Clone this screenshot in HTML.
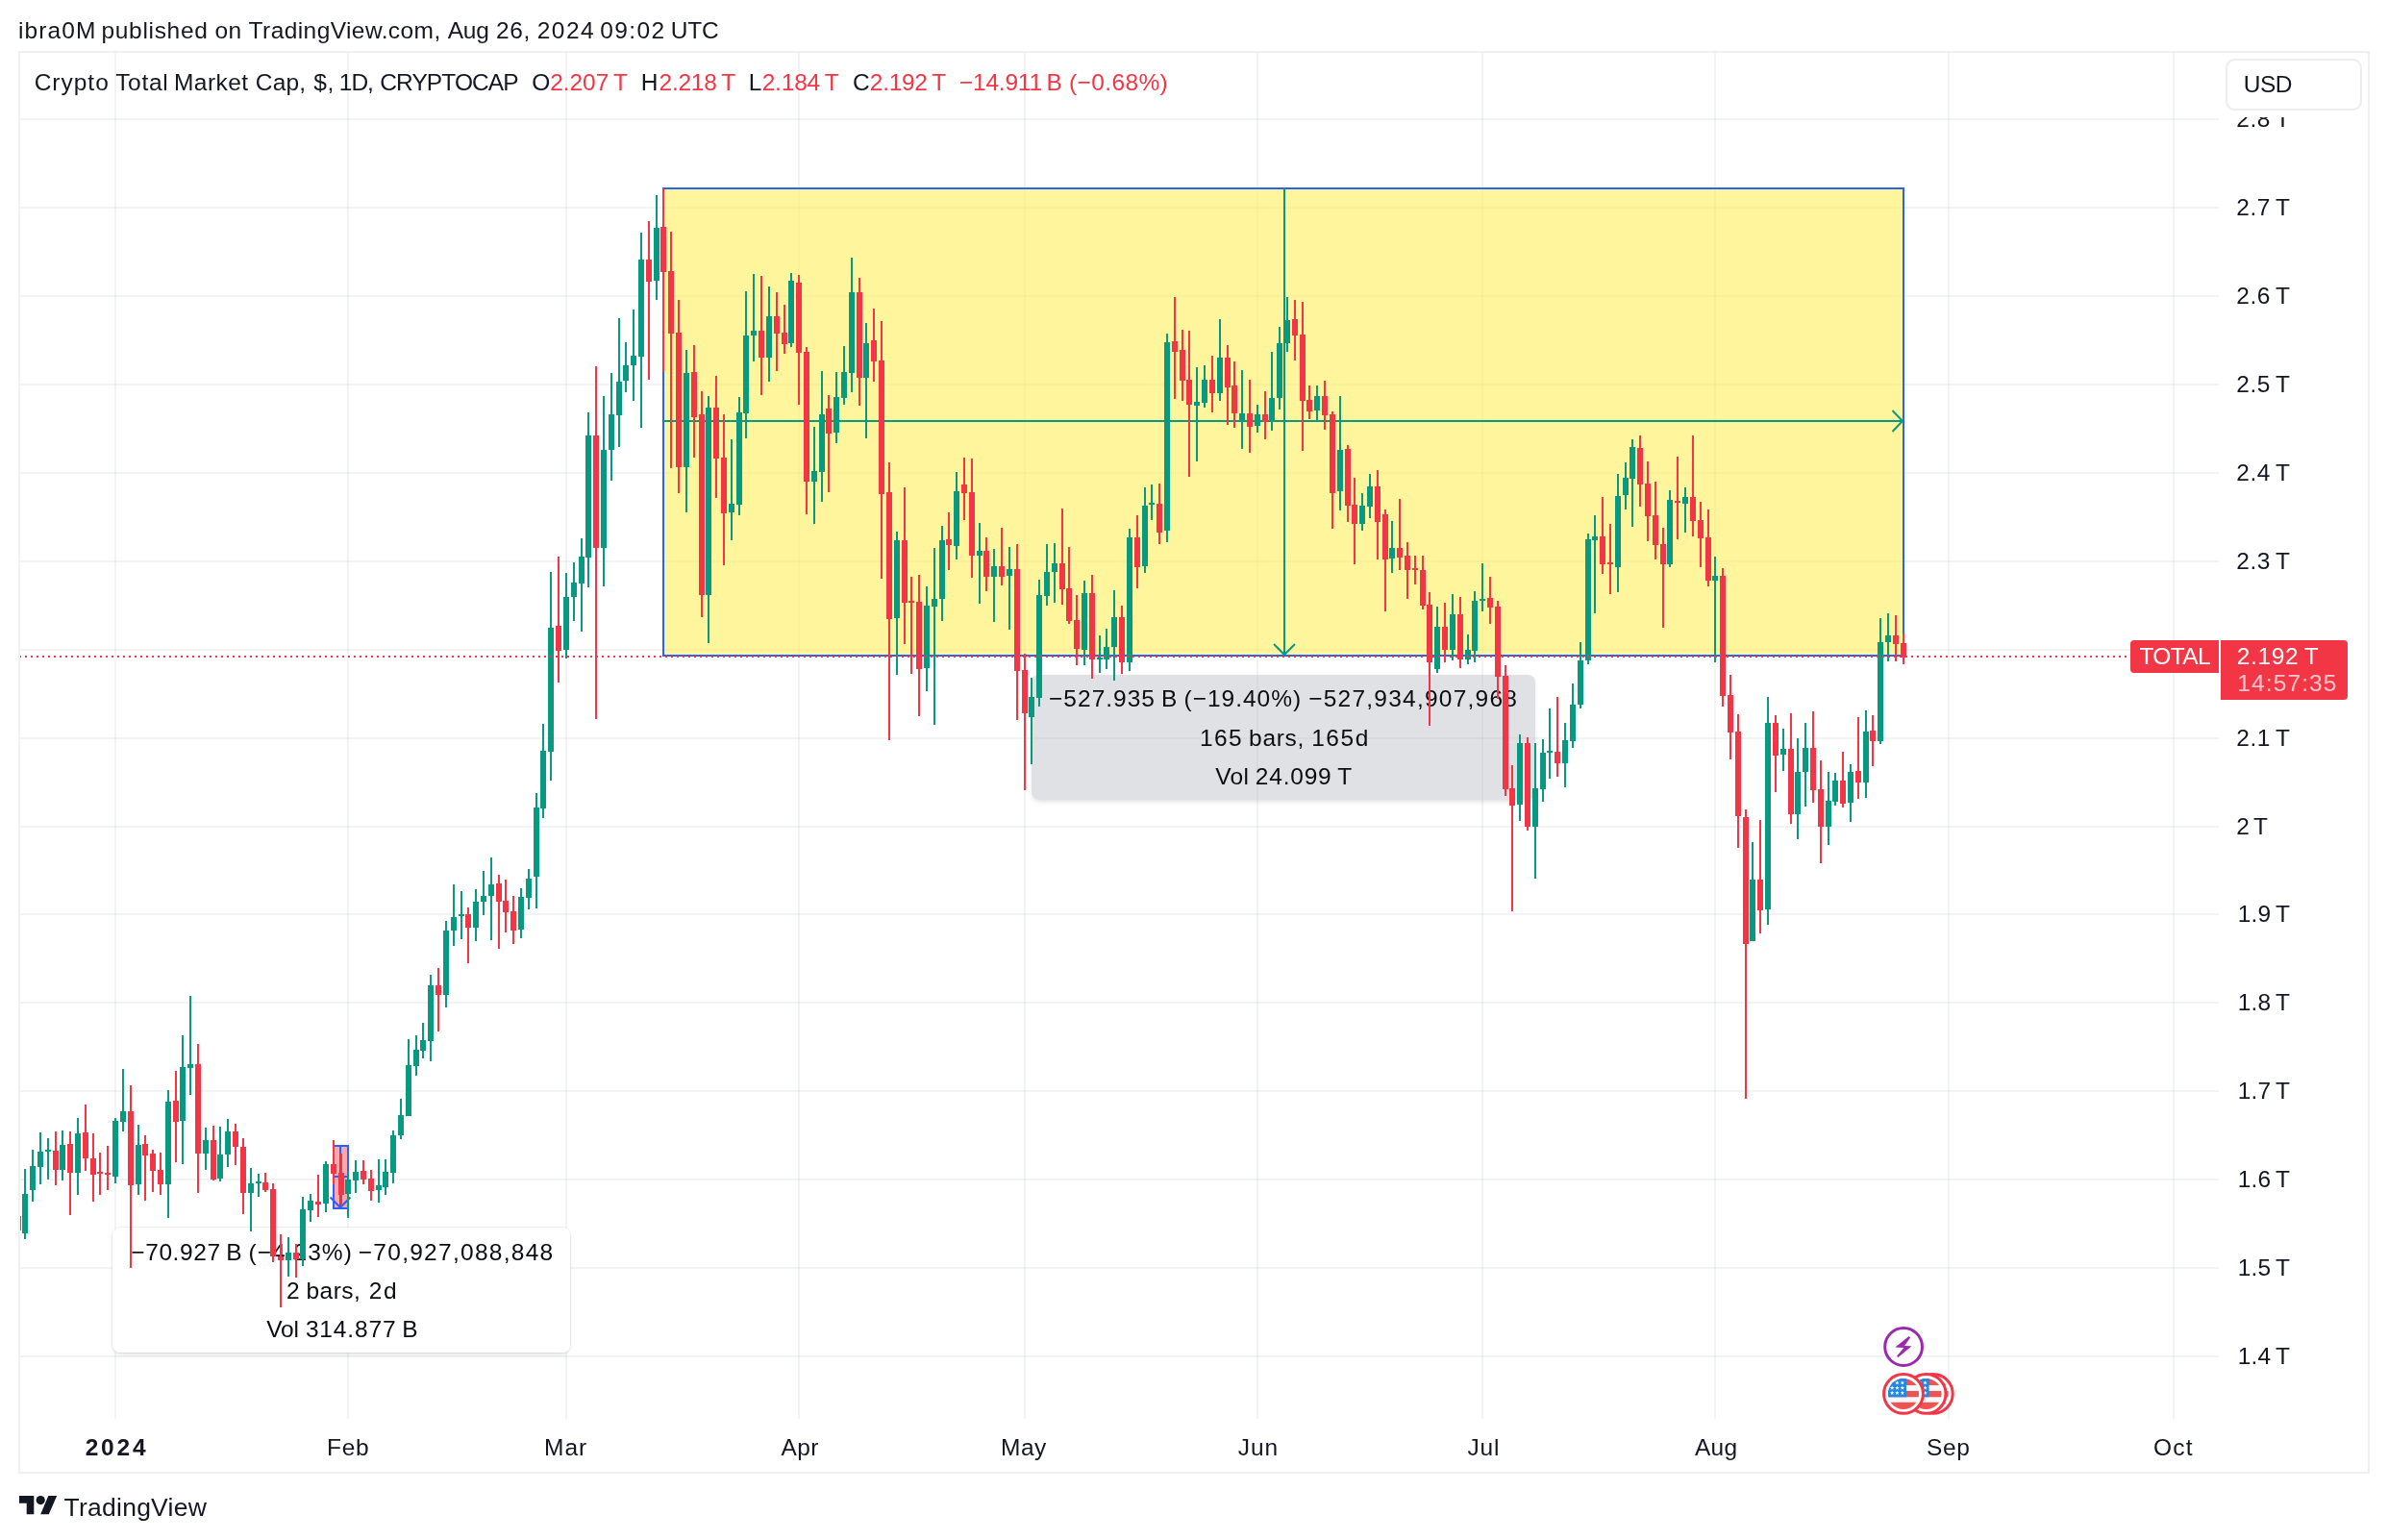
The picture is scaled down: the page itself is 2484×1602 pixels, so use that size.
<!DOCTYPE html>
<html lang="en"><head><meta charset="utf-8"><title>Crypto Total Market Cap, $, 1D, CRYPTOCAP — TradingView</title>
<style>html,body{margin:0;padding:0;background:#fff;width:2484px;height:1602px;overflow:hidden}svg text{white-space:pre}</style></head>
<body>
<svg width="2484" height="1602" viewBox="0 0 2484 1602" style="display:block;will-change:transform" font-family="'Liberation Sans', Arial, sans-serif" shape-rendering="crispEdges">
<rect width="2484" height="1602" fill="#fff"/>
<g fill="rgba(30,60,60,0.06)">
<rect x="119" y="55" width="2" height="1421"/>
<rect x="361" y="55" width="2" height="1421"/>
<rect x="588" y="55" width="2" height="1421"/>
<rect x="830" y="55" width="2" height="1421"/>
<rect x="1065" y="55" width="2" height="1421"/>
<rect x="1307" y="55" width="2" height="1421"/>
<rect x="1541" y="55" width="2" height="1421"/>
<rect x="1783" y="55" width="2" height="1421"/>
<rect x="2026" y="55" width="2" height="1421"/>
<rect x="2260" y="55" width="2" height="1421"/>
<rect x="21" y="1410" width="2287" height="2"/>
<rect x="21" y="1318" width="2287" height="2"/>
<rect x="21" y="1226" width="2287" height="2"/>
<rect x="21" y="1134" width="2287" height="2"/>
<rect x="21" y="1042" width="2287" height="2"/>
<rect x="21" y="950" width="2287" height="2"/>
<rect x="21" y="859" width="2287" height="2"/>
<rect x="21" y="767" width="2287" height="2"/>
<rect x="21" y="675" width="2287" height="2"/>
<rect x="21" y="583" width="2287" height="2"/>
<rect x="21" y="491" width="2287" height="2"/>
<rect x="21" y="399" width="2287" height="2"/>
<rect x="21" y="307" width="2287" height="2"/>
<rect x="21" y="215" width="2287" height="2"/>
<rect x="21" y="123" width="2287" height="2"/>
</g>
<rect x="690" y="196" width="1290" height="486" fill="rgba(255,235,59,0.5)" stroke="#2962ff" stroke-width="2"/>
<g stroke="#089981" stroke-width="2" fill="none">
<line x1="690" y1="438" x2="1979" y2="438"/>
<line x1="1336" y1="196" x2="1336" y2="681"/>
</g>
<g stroke="#089981" stroke-width="2" fill="none" shape-rendering="geometricPrecision">
<polyline points="1968.5,427 1979,438 1968.5,449"/>
<polyline points="1325,670 1336,681 1347,670"/>
</g>
<g shape-rendering="geometricPrecision">
<defs><filter id="sh" x="-10%" y="-20%" width="120%" height="150%"><feGaussianBlur stdDeviation="2.5"/></filter><clipPath id="c1"><path clip-rule="evenodd" d="M1000 650h700v260h-700zM1081 702h508a8 8 0 0 1 8 8v114a8 8 0 0 1-8 8h-508a8 8 0 0 1-8-8v-114a8 8 0 0 1 8-8z"/></clipPath><clipPath id="c2"><path clip-rule="evenodd" d="M60 1230h600v240h-600zM125 1277h460a8 8 0 0 1 8 8v114a8 8 0 0 1-8 8h-460a8 8 0 0 1-8-8v-114a8 8 0 0 1 8-8z"/></clipPath></defs>
<g clip-path="url(#c1)"><rect x="1074" y="704" width="522" height="130" rx="8" fill="rgba(19,23,34,0.12)" filter="url(#sh)"/></g>
<rect x="1073" y="702" width="524" height="130" rx="8" fill="rgba(178,181,190,0.40)"/>
</g>
<rect x="347" y="1192" width="15" height="65" fill="rgba(242,54,69,0.43)" stroke="#2962ff" stroke-width="2"/>
<g stroke="#2962ff" stroke-width="2" fill="none">
<line x1="354" y1="1192" x2="354" y2="1256"/>
<line x1="347" y1="1224" x2="362" y2="1224"/>
<polyline points="343.5,1245.5 354,1256 364.5,1245.5" shape-rendering="geometricPrecision"/>
</g>
<g shape-rendering="geometricPrecision">
<g clip-path="url(#c2)"><rect x="118" y="1279" width="474" height="130" rx="8" fill="rgba(19,23,34,0.12)" filter="url(#sh)"/></g>
<rect x="116.5" y="1276.5" width="477" height="131" rx="8.5" fill="none" stroke="rgba(19,23,34,0.05)" stroke-width="1" shape-rendering="geometricPrecision"/>
<rect x="117" y="1277" width="476" height="130" rx="8" fill="#fff"/>
</g>
<g shape-rendering="geometricPrecision"><text y="735.4" font-size="24.5" fill="#0a0c12"><tspan x="1091.05" letter-spacing="1.011">−527.935 B </tspan><tspan x="1231.5" letter-spacing="0.981">(−19.40%) </tspan><tspan x="1361.15" letter-spacing="1.24">−527,934,907,968</tspan></text><text y="775.6" font-size="24.5" fill="#0a0c12"><tspan x="1248.05" letter-spacing="1.35">165 </tspan><tspan x="1299.1" letter-spacing="0.688">bars, </tspan><tspan x="1364.15" letter-spacing="1.583">165d</tspan></text><text y="815.8" font-size="24.5" fill="#0a0c12"><tspan x="1264.15" letter-spacing="0.425">Vol </tspan><tspan x="1305.85" letter-spacing="0.786">24.099 T</tspan></text><text y="1311.1" font-size="24.5" fill="#0a0c12"><tspan x="136.25" letter-spacing="0.6">−70.927 B </tspan><tspan x="258.6" letter-spacing="1.014">(−4.23%) </tspan><tspan x="372.75" letter-spacing="1.275">−70,927,088,848</tspan></text><text y="1350.7" font-size="24.5" fill="#0a0c12"><tspan x="298.05">2 </tspan><tspan x="318.5" letter-spacing="0.463">bars, </tspan><tspan x="383.65" letter-spacing="1.7">2d</tspan></text><text y="1391" font-size="24.5" fill="#0a0c12"><tspan x="277.25" letter-spacing="-0.125">Vol </tspan><tspan x="317.9" letter-spacing="0.85">314.877 B</tspan></text></g>
<clipPath id="pane"><rect x="21" y="55" width="2287" height="1421"/></clipPath>
<g clip-path="url(#pane)"><path fill="#089981" d="M25 1216h2V1289h-2zM23 1242h6V1283h-6zM33 1196h2V1250h-2zM31 1213h6V1238h-6zM41 1178h2V1232h-2zM39 1198h6V1214h-6zM49 1184h2V1227h-2zM47 1196h6V1198h-6zM64 1176h2V1228h-2zM62 1191h6V1217h-6zM80 1163h2V1243h-2zM78 1179h6V1220h-6zM119 1163h2V1231h-2zM117 1166h6V1224h-6zM127 1112h2V1177h-2zM125 1156h6V1167h-6zM143 1170h2V1243h-2zM141 1191h6V1232h-6zM174 1134h2V1267h-2zM172 1146h6V1232h-6zM189 1077h2V1211h-2zM187 1110h6V1166h-6zM197 1036h2V1139h-2zM195 1107h6V1111h-6zM213 1173h2V1217h-2zM211 1186h6V1200h-6zM228 1172h2V1229h-2zM226 1201h6V1226h-6zM236 1164h2V1214h-2zM234 1177h6V1201h-6zM260 1215h2V1281h-2zM258 1231h6V1241h-6zM268 1221h2V1245h-2zM266 1229h6V1231h-6zM299 1287h2V1328h-2zM297 1303h6V1311h-6zM314 1245h2V1317h-2zM312 1258h6V1310h-6zM322 1242h2V1271h-2zM320 1249h6V1259h-6zM338 1208h2V1261h-2zM336 1211h6V1252h-6zM361 1219h2V1267h-2zM359 1227h6V1242h-6zM369 1207h2V1241h-2zM367 1219h6V1228h-6zM393 1206h2V1251h-2zM391 1233h6V1238h-6zM400 1206h2V1243h-2zM398 1219h6V1235h-6zM408 1176h2V1231h-2zM406 1181h6V1220h-6zM416 1143h2V1185h-2zM414 1160h6V1181h-6zM424 1081h2V1161h-2zM422 1108h6V1161h-6zM432 1077h2V1119h-2zM430 1092h6V1109h-6zM439 1064h2V1101h-2zM437 1082h6V1093h-6zM447 1014h2V1104h-2zM445 1025h6V1083h-6zM463 958h2V1048h-2zM461 968h6V1035h-6zM471 920h2V984h-2zM469 954h6V968h-6zM479 927h2V977h-2zM477 951h6V953h-6zM494 925h2V979h-2zM492 938h6V965h-6zM502 906h2V952h-2zM500 932h6V938h-6zM510 892h2V978h-2zM508 920h6V932h-6zM541 924h2V976h-2zM539 933h6V967h-6zM549 904h2V946h-2zM547 914h6V934h-6zM557 825h2V945h-2zM555 840h6V912h-6zM564 753h2V851h-2zM562 781h6V841h-6zM572 595h2V812h-2zM570 653h6V782h-6zM588 596h2V685h-2zM586 621h6V676h-6zM596 585h2V646h-2zM594 606h6V621h-6zM604 560h2V657h-2zM602 579h6V607h-6zM611 429h2V611h-2zM609 453h6V580h-6zM627 412h2V610h-2zM625 468h6V570h-6zM635 388h2V500h-2zM633 431h6V468h-6zM643 331h2V465h-2zM641 397h6V432h-6zM650 356h2V408h-2zM648 380h6V396h-6zM658 322h2V417h-2zM656 370h6V380h-6zM666 242h2V445h-2zM664 270h6V371h-6zM682 203h2V312h-2zM680 237h6V292h-6zM713 364h2V533h-2zM711 388h6V486h-6zM736 412h2V669h-2zM734 424h6V619h-6zM760 457h2V562h-2zM758 524h6V533h-6zM768 413h2V536h-2zM766 429h6V525h-6zM775 303h2V456h-2zM773 349h6V430h-6zM783 285h2V376h-2zM781 344h6V349h-6zM799 298h2V397h-2zM797 329h6V372h-6zM822 284h2V361h-2zM820 292h6V357h-6zM846 444h2V545h-2zM844 490h6V501h-6zM854 386h2V522h-2zM852 431h6V491h-6zM869 387h2V461h-2zM867 413h6V450h-6zM877 360h2V421h-2zM875 387h6V414h-6zM885 268h2V408h-2zM883 304h6V388h-6zM900 336h2V456h-2zM898 357h6V393h-6zM932 553h2V702h-2zM930 562h6V643h-6zM963 610h2V719h-2zM961 630h6V695h-6zM971 570h2V754h-2zM969 623h6V631h-6zM979 547h2V646h-2zM977 562h6V623h-6zM994 491h2V582h-2zM992 511h6V568h-6zM1018 544h2V628h-2zM1016 573h6V578h-6zM1033 571h2V647h-2zM1031 589h6V600h-6zM1049 569h2V655h-2zM1047 592h6V599h-6zM1072 705h2V795h-2zM1070 725h6V746h-6zM1080 603h2V735h-2zM1078 619h6V726h-6zM1088 566h2V630h-2zM1086 595h6V620h-6zM1096 565h2V627h-2zM1094 586h6V595h-6zM1127 604h2V692h-2zM1125 617h6V676h-6zM1143 661h2V700h-2zM1141 684h6V686h-6zM1150 654h2V696h-2zM1148 673h6V686h-6zM1158 614h2V708h-2zM1156 642h6V673h-6zM1174 550h2V698h-2zM1172 559h6V689h-6zM1190 507h2V596h-2zM1188 526h6V589h-6zM1197 504h2V541h-2zM1195 523h6V525h-6zM1213 347h2V564h-2zM1211 356h6V552h-6zM1244 382h2V480h-2zM1242 418h6V422h-6zM1252 380h2V424h-2zM1250 395h6V419h-6zM1268 332h2V417h-2zM1266 372h6V409h-6zM1291 385h2V467h-2zM1289 430h6V438h-6zM1307 421h2V450h-2zM1305 431h6V443h-6zM1322 366h2V448h-2zM1320 414h6V439h-6zM1330 340h2V426h-2zM1328 357h6V414h-6zM1338 309h2V366h-2zM1336 333h6V357h-6zM1369 401h2V437h-2zM1367 412h6V427h-6zM1393 412h2V531h-2zM1391 468h6V511h-6zM1416 513h2V552h-2zM1414 526h6V545h-6zM1424 493h2V539h-2zM1422 506h6V527h-6zM1447 542h2V596h-2zM1445 570h6V581h-6zM1494 631h2V700h-2zM1492 652h6V696h-6zM1510 618h2V687h-2zM1508 639h6V676h-6zM1526 660h2V691h-2zM1524 676h6V686h-6zM1533 615h2V689h-2zM1531 625h6V677h-6zM1541 586h2V636h-2zM1539 623h6V625h-6zM1580 764h2V854h-2zM1578 773h6V837h-6zM1596 773h2V914h-2zM1594 820h6V860h-6zM1604 769h2V834h-2zM1602 783h6V821h-6zM1611 737h2V810h-2zM1609 781h6V783h-6zM1627 752h2V819h-2zM1625 770h6V794h-6zM1635 711h2V778h-2zM1633 733h6V771h-6zM1643 668h2V737h-2zM1641 687h6V733h-6zM1651 555h2V691h-2zM1649 561h6V687h-6zM1658 536h2V638h-2zM1656 558h6V562h-6zM1682 493h2V616h-2zM1680 516h6V590h-6zM1690 481h2V530h-2zM1688 497h6V515h-6zM1697 457h2V548h-2zM1695 465h6V498h-6zM1736 510h2V590h-2zM1734 520h6V587h-6zM1752 507h2V554h-2zM1750 517h6V524h-6zM1783 579h2V689h-2zM1781 599h6V604h-6zM1822 876h2V979h-2zM1820 915h6V979h-6zM1838 725h2V962h-2zM1836 752h6V946h-6zM1854 758h2V802h-2zM1852 779h6V785h-6zM1869 768h2V873h-2zM1867 803h6V847h-6zM1877 752h2V839h-2zM1875 778h6V803h-6zM1901 803h2V879h-2zM1899 833h6V860h-6zM1908 804h2V838h-2zM1906 812h6V834h-6zM1924 795h2V855h-2zM1922 803h6V835h-6zM1940 739h2V830h-2zM1938 761h6V814h-6zM1955 643h2V774h-2zM1953 668h6V771h-6zM1963 638h2V688h-2zM1961 661h6V668h-6z"/><path fill="#f23645" d="M18 1265h2V1280h-2zM16 1265h6V1280h-6zM57 1177h2V1233h-2zM55 1197h6V1217h-6zM72 1177h2V1264h-2zM70 1190h6V1220h-6zM88 1149h2V1218h-2zM86 1178h6V1205h-6zM96 1179h2V1250h-2zM94 1205h6V1222h-6zM103 1199h2V1243h-2zM101 1219h6V1221h-6zM111 1192h2V1238h-2zM109 1220h6V1222h-6zM135 1129h2V1319h-2zM133 1156h6V1233h-6zM150 1181h2V1249h-2zM148 1190h6V1202h-6zM158 1196h2V1240h-2zM156 1200h6V1218h-6zM166 1199h2V1243h-2zM164 1217h6V1232h-6zM182 1114h2V1209h-2zM180 1145h6V1167h-6zM205 1086h2V1241h-2zM203 1107h6V1200h-6zM221 1171h2V1228h-2zM219 1186h6V1227h-6zM244 1169h2V1212h-2zM242 1177h6V1193h-6zM252 1184h2V1263h-2zM250 1193h6V1241h-6zM275 1220h2V1240h-2zM273 1230h6V1238h-6zM283 1231h2V1313h-2zM281 1237h6V1307h-6zM291 1284h2V1360h-2zM289 1307h6V1311h-6zM307 1294h2V1329h-2zM305 1303h6V1310h-6zM330 1222h2V1266h-2zM328 1250h6V1253h-6zM346 1186h2V1232h-2zM344 1211h6V1221h-6zM354 1200h2V1254h-2zM352 1220h6V1243h-6zM377 1207h2V1232h-2zM375 1218h6V1227h-6zM385 1217h2V1249h-2zM383 1226h6V1239h-6zM455 1007h2V1073h-2zM453 1025h6V1035h-6zM486 944h2V1002h-2zM484 951h6V965h-6zM518 910h2V987h-2zM516 919h6V938h-6zM525 915h2V970h-2zM523 937h6V949h-6zM533 932h2V982h-2zM531 948h6V968h-6zM580 579h2V710h-2zM578 651h6V677h-6zM619 381h2V748h-2zM617 453h6V570h-6zM674 230h2V395h-2zM672 270h6V293h-6zM689 196h2V387h-2zM687 236h6V283h-6zM697 241h2V487h-2zM695 282h6V347h-6zM705 312h2V513h-2zM703 346h6V486h-6zM721 359h2V476h-2zM719 387h6V434h-6zM729 407h2V642h-2zM727 431h6V619h-6zM744 391h2V518h-2zM742 424h6V477h-6zM752 431h2V588h-2zM750 476h6V534h-6zM791 287h2V411h-2zM789 344h6V372h-6zM807 304h2V386h-2zM805 329h6V347h-6zM815 317h2V368h-2zM813 346h6V358h-6zM830 286h2V421h-2zM828 294h6V367h-6zM838 361h2V535h-2zM836 366h6V501h-6zM861 411h2V512h-2zM859 425h6V451h-6zM893 289h2V422h-2zM891 304h6V393h-6zM908 321h2V397h-2zM906 354h6V376h-6zM916 334h2V602h-2zM914 375h6V514h-6zM924 481h2V770h-2zM922 512h6V644h-6zM940 507h2V670h-2zM938 562h6V627h-6zM947 600h2V701h-2zM945 625h6V627h-6zM955 598h2V745h-2zM953 626h6V696h-6zM986 533h2V593h-2zM984 561h6V567h-6zM1002 476h2V541h-2zM1000 504h6V513h-6zM1010 477h2V601h-2zM1008 512h6V578h-6zM1025 559h2V615h-2zM1023 573h6V600h-6zM1041 549h2V609h-2zM1039 589h6V600h-6zM1057 566h2V749h-2zM1055 592h6V698h-6zM1065 680h2V822h-2zM1063 697h6V742h-6zM1104 529h2V629h-2zM1102 586h6V613h-6zM1111 569h2V649h-2zM1109 612h6V646h-6zM1119 619h2V692h-2zM1117 645h6V675h-6zM1135 598h2V706h-2zM1133 617h6V686h-6zM1166 630h2V701h-2zM1164 642h6V689h-6zM1182 536h2V612h-2zM1180 559h6V590h-6zM1205 503h2V566h-2zM1203 524h6V554h-6zM1221 309h2V415h-2zM1219 355h6V366h-6zM1229 343h2V417h-2zM1227 364h6V396h-6zM1236 344h2V496h-2zM1234 395h6V421h-6zM1260 370h2V429h-2zM1258 395h6V409h-6zM1276 359h2V442h-2zM1274 372h6V403h-6zM1283 376h2V445h-2zM1281 401h6V430h-6zM1299 395h2V471h-2zM1297 430h6V444h-6zM1315 407h2V457h-2zM1313 431h6V439h-6zM1346 312h2V375h-2zM1344 332h6V349h-6zM1354 314h2V469h-2zM1352 348h6V417h-6zM1361 401h2V436h-2zM1359 416h6V428h-6zM1377 396h2V447h-2zM1375 412h6V432h-6zM1385 428h2V550h-2zM1383 431h6V513h-6zM1401 463h2V543h-2zM1399 467h6V526h-6zM1408 497h2V587h-2zM1406 525h6V545h-6zM1432 489h2V582h-2zM1430 506h6V543h-6zM1440 530h2V636h-2zM1438 535h6V582h-6zM1455 519h2V593h-2zM1453 570h6V580h-6zM1463 564h2V623h-2zM1461 578h6V593h-6zM1471 578h2V608h-2zM1469 591h6V593h-6zM1479 578h2V634h-2zM1477 593h6V630h-6zM1486 616h2V755h-2zM1484 629h6V689h-6zM1502 627h2V689h-2zM1500 652h6V676h-6zM1518 621h2V695h-2zM1516 639h6V686h-6zM1549 600h2V649h-2zM1547 622h6V632h-6zM1557 625h2V727h-2zM1555 631h6V704h-6zM1565 692h2V828h-2zM1563 703h6V821h-6zM1572 796h2V948h-2zM1570 820h6V838h-6zM1588 767h2V864h-2zM1586 773h6V860h-6zM1619 725h2V808h-2zM1617 782h6V794h-6zM1666 517h2V597h-2zM1664 558h6V587h-6zM1674 545h2V618h-2zM1672 585h6V587h-6zM1705 453h2V527h-2zM1703 466h6V504h-6zM1713 480h2V563h-2zM1711 503h6V537h-6zM1721 501h2V582h-2zM1719 536h6V567h-6zM1729 549h2V653h-2zM1727 566h6V587h-6zM1744 475h2V561h-2zM1742 521h6V523h-6zM1760 453h2V558h-2zM1758 517h6V542h-6zM1768 522h2V590h-2zM1766 541h6V560h-6zM1776 530h2V610h-2zM1774 559h6V604h-6zM1791 591h2V735h-2zM1789 599h6V724h-6zM1799 702h2V790h-2zM1797 723h6V762h-6zM1807 743h2V882h-2zM1805 761h6V849h-6zM1815 842h2V1143h-2zM1813 850h6V982h-6zM1830 853h2V971h-2zM1828 915h6V947h-6zM1846 744h2V824h-2zM1844 752h6V786h-6zM1862 742h2V857h-2zM1860 779h6V847h-6zM1885 740h2V835h-2zM1883 778h6V822h-6zM1893 791h2V898h-2zM1891 821h6V860h-6zM1916 782h2V840h-2zM1914 812h6V836h-6zM1932 746h2V831h-2zM1930 802h6V814h-6zM1947 744h2V797h-2zM1945 760h6V771h-6zM1971 640h2V688h-2zM1969 661h6V670h-6zM1979 659h2V691h-2zM1977 669h6V684h-6z"/></g>
<path stroke="#f23645" stroke-width="2" stroke-dasharray="2 4" d="M20 683H2216" fill="none"/>
<rect x="20" y="54" width="2444" height="1478" fill="none" stroke="#eef0f4" stroke-width="2"/>
<g shape-rendering="geometricPrecision">
<text x="2327.75" y="1419" font-size="24.5" fill="#131722" letter-spacing="0.1">1.4 T</text><text x="2327.75" y="1327" font-size="24.5" fill="#131722" letter-spacing="0.1">1.5 T</text><text x="2327.75" y="1235" font-size="24.5" fill="#131722" letter-spacing="0.1">1.6 T</text><text x="2327.75" y="1143" font-size="24.5" fill="#131722" letter-spacing="0.1">1.7 T</text><text x="2327.75" y="1051" font-size="24.5" fill="#131722" letter-spacing="0.1">1.8 T</text><text x="2327.75" y="959" font-size="24.5" fill="#131722" letter-spacing="0.1">1.9 T</text><text x="2326.35" y="868" font-size="24.5" fill="#131722" letter-spacing="-0.425">2 T</text><text x="2326.35" y="776" font-size="24.5" fill="#131722" letter-spacing="0.45">2.1 T</text><text x="2326.35" y="684" font-size="24.5" fill="#131722" letter-spacing="0.45">2.2 T</text><text x="2326.35" y="592" font-size="24.5" fill="#131722" letter-spacing="0.45">2.3 T</text><text x="2326.35" y="500" font-size="24.5" fill="#131722" letter-spacing="0.45">2.4 T</text><text x="2326.35" y="408" font-size="24.5" fill="#131722" letter-spacing="0.45">2.5 T</text><text x="2326.35" y="316" font-size="24.5" fill="#131722" letter-spacing="0.45">2.6 T</text><text x="2326.35" y="224" font-size="24.5" fill="#131722" letter-spacing="0.45">2.7 T</text><text x="2326.35" y="132" font-size="24.5" fill="#131722" letter-spacing="0.45">2.8 T</text>
<rect x="2310" y="55" width="153" height="67" fill="#fff"/>
<rect x="2316" y="62" width="140" height="52" rx="9" fill="#fff" stroke="#ebedf3" stroke-width="2"/>
<path d="M2220 666h88v34h-88a4 4 0 0 1-4-4v-26a4 4 0 0 1 4-4z" fill="#f23645"/>
<path d="M2310 666h128a4 4 0 0 1 4 4v54a4 4 0 0 1-4 4h-128z" fill="#f23645"/>
<path fill="#131722" d="M20 1556h15.3v19.3h-7.6v-11.5h-7.7z"/>
<circle cx="42.2" cy="1560.6" r="4.6" fill="#131722"/>
<path fill="#131722" d="M50.3 1556h8.9l-8.4 19.3h-8.6z"/>
<text y="40.2" font-size="24.5" fill="#131722"><tspan x="19.05" letter-spacing="1.07">ibra0M </tspan><tspan x="105.5" letter-spacing="0.681">published </tspan><tspan x="223.6" letter-spacing="0.35">on </tspan><tspan x="258.6" letter-spacing="0.417">TradingView.com, </tspan><tspan x="465.7" letter-spacing="-0.25">Aug </tspan><tspan x="516.05" letter-spacing="0.65">26, </tspan><tspan x="558.75" letter-spacing="1.467">2024 </tspan><tspan x="624.3" letter-spacing="1.375">09:02 </tspan><tspan x="697.8" letter-spacing="-0.2">UTC</tspan></text><text y="94" font-size="24.5" fill="#131722"><tspan x="35.65" letter-spacing="1.0">Crypto </tspan><tspan x="120.2" letter-spacing="0.687">Total </tspan><tspan x="181.0" letter-spacing="0.45">Market </tspan><tspan x="265.75" letter-spacing="0.183">Cap, </tspan><tspan x="326.15" letter-spacing="0.8">$, </tspan><tspan x="352.85" letter-spacing="-1.075">1D, </tspan><tspan x="395.25" letter-spacing="-0.9">CRYPTOCAP</tspan></text><text x="553.35" y="94" font-size="24.5" fill="#131722">O</text><text x="572.25" y="94" font-size="24.5" fill="#f23645" letter-spacing="-0.075">2.207 T</text><text x="666.7" y="94" font-size="24.5" fill="#131722">H</text><text x="685.55" y="94" font-size="24.5" fill="#f23645" letter-spacing="-0.258">2.218 T</text><text x="778.7" y="94" font-size="24.5" fill="#131722">L</text><text x="792.65" y="94" font-size="24.5" fill="#f23645" letter-spacing="-0.175">2.184 T</text><text x="887.05" y="94" font-size="24.5" fill="#131722">C</text><text x="904.85" y="94" font-size="24.5" fill="#f23645" letter-spacing="-0.308">2.192 T</text><text y="94" font-size="24.5" fill="#f23645"><tspan x="997.85" letter-spacing="-0.2">−14.911 B </tspan><tspan x="1112.0" letter-spacing="0.371">(−0.68%)</tspan></text><text x="2333.8" y="95.6" font-size="24.5" fill="#131722" letter-spacing="-0.5">USD</text><text x="2225.4" y="690.7" font-size="24.5" fill="#fff" letter-spacing="-0.6">TOTAL</text><text x="2326.65" y="690.7" font-size="24.5" fill="#fff" letter-spacing="0.658">2.192 T</text><text x="2327.25" y="719" font-size="24.5" fill="rgba(255,255,255,0.72)" letter-spacing="1.114">14:57:35</text><text x="88.65" y="1514.2" font-size="24.5" fill="#131722" font-weight="bold" letter-spacing="2.817">2024</text><text x="340.0" y="1514.2" font-size="24.5" fill="#131722" letter-spacing="0.675">Feb</text><text x="566.0" y="1514.2" font-size="24.5" fill="#131722" letter-spacing="1.025">Mar</text><text x="812.5" y="1514.2" font-size="24.5" fill="#131722" letter-spacing="0.375">Apr</text><text x="1041.0" y="1514.2" font-size="24.5" fill="#131722" letter-spacing="0.475">May</text><text x="1287.7" y="1514.2" font-size="24.5" fill="#131722" letter-spacing="1.0">Jun</text><text x="1526.4" y="1514.2" font-size="24.5" fill="#131722" letter-spacing="0.825">Jul</text><text x="1763.0" y="1514.2" font-size="24.5" fill="#131722" letter-spacing="0.25">Aug</text><text x="2003.95" y="1514.2" font-size="24.5" fill="#131722" letter-spacing="0.625">Sep</text><text x="2240.05" y="1514.2" font-size="24.5" fill="#131722" letter-spacing="1.225">Oct</text><text x="66.6" y="1576.6" font-size="26.5" fill="#131722" letter-spacing="0.235">TradingView</text>
<circle cx="1980.1" cy="1401" r="19.4" fill="#fff" stroke="#9c27b0" stroke-width="3"/>
<polygon fill="#9c27b0" points="1985.69,1389.98 1971.34,1401.54 1980.46,1401.97 1973.03,1410.83 1974.46,1411.93 1988.56,1400.36 1980.96,1400.02 1987.13,1391.41"/>
<circle cx="2010.8" cy="1449.9" r="20.4" fill="#fff" stroke="#f23645" stroke-width="3"/><clipPath id="f3"><circle cx="2010.8" cy="1449.9" r="16"/></clipPath><g clip-path="url(#f3)"><rect x="1994.8" y="1433.9" width="32" height="32" fill="#f5f7fa"/><rect x="1994.8" y="1433.86" width="32" height="7.18" fill="#ef5350"/><rect x="1994.8" y="1446.94" width="32" height="6.33" fill="#ef5350"/><rect x="1994.8" y="1458.77" width="32" height="7.43" fill="#ef5350"/><rect x="1994.8" y="1433.9" width="18.96" height="19.38" fill="#1e88e5"/><polygon fill="#fff" points="1998.98,1441.52 1999.57,1443.01 2001.17,1443.11 1999.93,1444.13 2000.33,1445.68 1998.98,1444.82 1997.63,1445.68 1998.03,1444.13 1996.79,1443.11 1998.39,1443.01"/><polygon fill="#fff" points="1998.98,1446.76 1999.57,1448.25 2001.17,1448.34 1999.93,1449.36 2000.33,1450.92 1998.98,1450.06 1997.63,1450.92 1998.03,1449.36 1996.79,1448.34 1998.39,1448.25"/><polygon fill="#fff" points="2004.21,1436.20 2004.80,1437.69 2006.40,1437.79 2005.16,1438.81 2005.57,1440.36 2004.21,1439.50 2002.86,1440.36 2003.26,1438.81 2002.03,1437.79 2003.63,1437.69"/><polygon fill="#fff" points="2004.21,1441.52 2004.80,1443.01 2006.40,1443.11 2005.16,1444.13 2005.57,1445.68 2004.21,1444.82 2002.86,1445.68 2003.26,1444.13 2002.03,1443.11 2003.63,1443.01"/><polygon fill="#fff" points="2004.21,1446.76 2004.80,1448.25 2006.40,1448.34 2005.16,1449.36 2005.57,1450.92 2004.21,1450.06 2002.86,1450.92 2003.26,1449.36 2002.03,1448.34 2003.63,1448.25"/><polygon fill="#fff" points="2009.70,1436.20 2010.29,1437.69 2011.89,1437.79 2010.65,1438.81 2011.05,1440.36 2009.70,1439.50 2008.35,1440.36 2008.75,1438.81 2007.51,1437.79 2009.11,1437.69"/><polygon fill="#fff" points="2009.70,1441.52 2010.29,1443.01 2011.89,1443.11 2010.65,1444.13 2011.05,1445.68 2009.70,1444.82 2008.35,1445.68 2008.75,1444.13 2007.51,1443.11 2009.11,1443.01"/><polygon fill="#fff" points="2009.70,1446.76 2010.29,1448.25 2011.89,1448.34 2010.65,1449.36 2011.05,1450.92 2009.70,1450.06 2008.35,1450.92 2008.75,1449.36 2007.51,1448.34 2009.11,1448.25"/></g>
<circle cx="2003.6" cy="1449.9" r="20.4" fill="#fff" stroke="#f23645" stroke-width="3"/><clipPath id="f2"><circle cx="2003.6" cy="1449.9" r="16"/></clipPath><g clip-path="url(#f2)"><rect x="1987.6" y="1433.9" width="32" height="32" fill="#f5f7fa"/><rect x="1987.6" y="1433.86" width="32" height="7.18" fill="#ef5350"/><rect x="1987.6" y="1446.94" width="32" height="6.33" fill="#ef5350"/><rect x="1987.6" y="1458.77" width="32" height="7.43" fill="#ef5350"/><rect x="1987.6" y="1433.9" width="18.96" height="19.38" fill="#1e88e5"/><polygon fill="#fff" points="1991.78,1441.52 1992.37,1443.01 1993.97,1443.11 1992.73,1444.13 1993.13,1445.68 1991.78,1444.82 1990.43,1445.68 1990.83,1444.13 1989.59,1443.11 1991.19,1443.01"/><polygon fill="#fff" points="1991.78,1446.76 1992.37,1448.25 1993.97,1448.34 1992.73,1449.36 1993.13,1450.92 1991.78,1450.06 1990.43,1450.92 1990.83,1449.36 1989.59,1448.34 1991.19,1448.25"/><polygon fill="#fff" points="1997.01,1436.20 1997.60,1437.69 1999.20,1437.79 1997.96,1438.81 1998.37,1440.36 1997.01,1439.50 1995.66,1440.36 1996.06,1438.81 1994.83,1437.79 1996.43,1437.69"/><polygon fill="#fff" points="1997.01,1441.52 1997.60,1443.01 1999.20,1443.11 1997.96,1444.13 1998.37,1445.68 1997.01,1444.82 1995.66,1445.68 1996.06,1444.13 1994.83,1443.11 1996.43,1443.01"/><polygon fill="#fff" points="1997.01,1446.76 1997.60,1448.25 1999.20,1448.34 1997.96,1449.36 1998.37,1450.92 1997.01,1450.06 1995.66,1450.92 1996.06,1449.36 1994.83,1448.34 1996.43,1448.25"/><polygon fill="#fff" points="2002.50,1436.20 2003.09,1437.69 2004.69,1437.79 2003.45,1438.81 2003.85,1440.36 2002.50,1439.50 2001.15,1440.36 2001.55,1438.81 2000.31,1437.79 2001.91,1437.69"/><polygon fill="#fff" points="2002.50,1441.52 2003.09,1443.01 2004.69,1443.11 2003.45,1444.13 2003.85,1445.68 2002.50,1444.82 2001.15,1445.68 2001.55,1444.13 2000.31,1443.11 2001.91,1443.01"/><polygon fill="#fff" points="2002.50,1446.76 2003.09,1448.25 2004.69,1448.34 2003.45,1449.36 2003.85,1450.92 2002.50,1450.06 2001.15,1450.92 2001.55,1449.36 2000.31,1448.34 2001.91,1448.25"/></g>
<circle cx="1980" cy="1449.9" r="20.4" fill="#fff" stroke="#f23645" stroke-width="3"/><clipPath id="f1"><circle cx="1980" cy="1449.9" r="16"/></clipPath><g clip-path="url(#f1)"><rect x="1964" y="1433.9" width="32" height="32" fill="#f5f7fa"/><rect x="1964" y="1433.86" width="32" height="7.18" fill="#ef5350"/><rect x="1964" y="1446.94" width="32" height="6.33" fill="#ef5350"/><rect x="1964" y="1458.77" width="32" height="7.43" fill="#ef5350"/><rect x="1964" y="1433.9" width="18.96" height="19.38" fill="#1e88e5"/><polygon fill="#fff" points="1968.18,1441.52 1968.77,1443.01 1970.37,1443.11 1969.13,1444.13 1969.53,1445.68 1968.18,1444.82 1966.83,1445.68 1967.23,1444.13 1965.99,1443.11 1967.59,1443.01"/><polygon fill="#fff" points="1968.18,1446.76 1968.77,1448.25 1970.37,1448.34 1969.13,1449.36 1969.53,1450.92 1968.18,1450.06 1966.83,1450.92 1967.23,1449.36 1965.99,1448.34 1967.59,1448.25"/><polygon fill="#fff" points="1973.41,1436.20 1974.00,1437.69 1975.60,1437.79 1974.36,1438.81 1974.77,1440.36 1973.41,1439.50 1972.06,1440.36 1972.46,1438.81 1971.23,1437.79 1972.83,1437.69"/><polygon fill="#fff" points="1973.41,1441.52 1974.00,1443.01 1975.60,1443.11 1974.36,1444.13 1974.77,1445.68 1973.41,1444.82 1972.06,1445.68 1972.46,1444.13 1971.23,1443.11 1972.83,1443.01"/><polygon fill="#fff" points="1973.41,1446.76 1974.00,1448.25 1975.60,1448.34 1974.36,1449.36 1974.77,1450.92 1973.41,1450.06 1972.06,1450.92 1972.46,1449.36 1971.23,1448.34 1972.83,1448.25"/><polygon fill="#fff" points="1978.90,1436.20 1979.49,1437.69 1981.09,1437.79 1979.85,1438.81 1980.25,1440.36 1978.90,1439.50 1977.55,1440.36 1977.95,1438.81 1976.71,1437.79 1978.31,1437.69"/><polygon fill="#fff" points="1978.90,1441.52 1979.49,1443.01 1981.09,1443.11 1979.85,1444.13 1980.25,1445.68 1978.90,1444.82 1977.55,1445.68 1977.95,1444.13 1976.71,1443.11 1978.31,1443.01"/><polygon fill="#fff" points="1978.90,1446.76 1979.49,1448.25 1981.09,1448.34 1979.85,1449.36 1980.25,1450.92 1978.90,1450.06 1977.55,1450.92 1977.95,1449.36 1976.71,1448.34 1978.31,1448.25"/></g>
</g>
</svg>
</body></html>
